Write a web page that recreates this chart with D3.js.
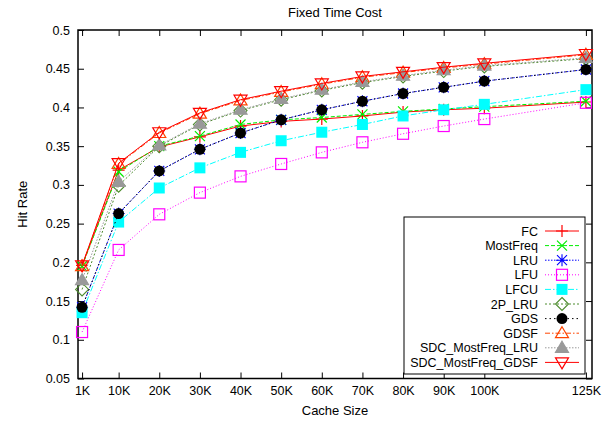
<!DOCTYPE html>
<html>
<head>
<meta charset="utf-8">
<script src="https://cdn.jsdelivr.net/npm/d3@7"></script>
<style>
  body { margin: 0; background: #fff; }
  text { font-family: "Liberation Sans", Arial, sans-serif; font-size: 12.5px; fill: #000; }
</style>
</head>
<body>
<div id="chart"></div>
<script>
// cache sizes (in K) and their tick labels
var sizes = [1, 10, 20, 30, 40, 50, 60, 70, 80, 90, 100, 125];
var sizeLabels = ["1K", "10K", "20K", "30K", "40K", "50K", "60K", "70K", "80K", "90K", "100K", "125K"];
var yTicks = [0.05, 0.1, 0.15, 0.2, 0.25, 0.3, 0.35, 0.4, 0.45, 0.5];

// hit rates
var fc        = [0.196, 0.319, 0.349, 0.362, 0.376, 0.382, 0.385, 0.389, 0.394, 0.397, 0.399, 0.407];
var mostFreq  = [0.195, 0.317, 0.350, 0.363, 0.378, 0.384, 0.387, 0.391, 0.395, 0.398, 0.401, 0.408];
var lru       = [0.142, 0.263, 0.318, 0.346, 0.367, 0.384, 0.397, 0.408, 0.418, 0.426, 0.434, 0.449];
var lfu       = [0.110, 0.216, 0.262, 0.290, 0.311, 0.327, 0.342, 0.355, 0.366, 0.376, 0.385, 0.406];
var lfcu      = [0.135, 0.252, 0.296, 0.322, 0.342, 0.357, 0.368, 0.378, 0.389, 0.397, 0.404, 0.423];
var p2Lru     = [0.165, 0.299, 0.350, 0.378, 0.396, 0.410, 0.422, 0.432, 0.440, 0.447, 0.453, 0.463];
var gds       = [0.142, 0.263, 0.318, 0.346, 0.367, 0.384, 0.397, 0.408, 0.418, 0.426, 0.434, 0.449];
var gdsf      = [0.195, 0.327, 0.367, 0.392, 0.409, 0.420, 0.430, 0.439, 0.445, 0.451, 0.456, 0.468];
var sdcLru    = [0.177, 0.304, 0.351, 0.379, 0.397, 0.411, 0.423, 0.433, 0.441, 0.448, 0.454, 0.464];
var sdcGdsf   = [0.196, 0.328, 0.368, 0.393, 0.410, 0.421, 0.431, 0.440, 0.446, 0.452, 0.457, 0.469];

var series = [
  {name: "FC", values: fc, color: "#ff0000", dash: null, mark: "plus"},
  {name: "MostFreq", values: mostFreq, color: "#00ee00", dash: "4,2", mark: "cross"},
  {name: "LRU", values: lru, color: "#0000ff", dash: "1.5,1.5", mark: "star"},
  {name: "LFU", values: lfu, color: "#ff00ff", dash: "1,2", mark: "square"},
  {name: "LFCU", values: lfcu, color: "#00ffff", dash: "6,2,1.5,2", mark: "fsquare"},
  {name: "2P_LRU", values: p2Lru, color: "#4d8c2e", dash: "2,2", mark: "diamond"},
  {name: "GDS", values: gds, color: "#000000", dash: "1.5,3", mark: "circle"},
  {name: "GDSF", values: gdsf, color: "#ff4500", dash: "5,2,1.5,2", mark: "triangle"},
  {name: "SDC_MostFreq_LRU", values: sdcLru, color: "#999999", dash: "1.5,1.5", mark: "ftriangle"},
  {name: "SDC_MostFreq_GDSF", values: sdcGdsf, color: "#ff0000", dash: null, mark: "itriangle"}
];

var W = 610, H = 422;
var mLeft = 78, mRight = 592, mTop = 30, mBottom = 378.5;

var svg = d3.select("#chart").append("svg")
  .attr("width", W).attr("height", H);

var x = d3.scaleLinear().domain([0, 126.5]).range([mLeft, mRight]);
var y = d3.scaleLinear().domain([0.05, 0.5]).range([mBottom, mTop]);

// axes with inward ticks, mirrored on top/right
svg.append("g")
  .attr("transform", "translate(0," + mBottom + ")")
  .call(d3.axisBottom(x).tickValues(sizes).tickFormat(function(d, i) { return sizeLabels[i]; })
    .tickSizeInner(-6).tickSizeOuter(0).tickPadding(8));
svg.append("g")
  .attr("transform", "translate(0," + mTop + ")")
  .call(d3.axisTop(x).tickValues(sizes).tickFormat("").tickSizeInner(-6).tickSizeOuter(0));
svg.append("g")
  .attr("transform", "translate(" + mLeft + ",0)")
  .call(d3.axisLeft(y).tickValues(yTicks).tickFormat(d3.format("")).tickSizeInner(-6).tickSizeOuter(0).tickPadding(8));
svg.append("g")
  .attr("transform", "translate(" + mRight + ",0)")
  .call(d3.axisRight(y).tickValues(yTicks).tickFormat("").tickSizeInner(-6).tickSizeOuter(0));

svg.selectAll(".domain").remove();
svg.selectAll(".tick line").attr("stroke", "#000").attr("stroke-width", 1);
svg.selectAll(".tick text").style("font-size", "12.5px").attr("fill", "#000");

svg.append("rect")
  .attr("x", mLeft).attr("y", mTop)
  .attr("width", mRight - mLeft).attr("height", mBottom - mTop)
  .attr("fill", "none").attr("stroke", "#000").attr("stroke-width", 1.5);

// titles
svg.append("text").attr("x", (mLeft + mRight) / 2).attr("y", 17)
  .attr("text-anchor", "middle").style("font-size", "13px").text("Fixed Time Cost");
svg.append("text").attr("x", (mLeft + mRight) / 2).attr("y", 415)
  .attr("text-anchor", "middle").style("font-size", "13px").text("Cache Size");
svg.append("text").attr("transform", "translate(27," + ((mTop + mBottom) / 2) + ") rotate(-90)")
  .attr("text-anchor", "middle").style("font-size", "13px").text("Hit Rate");

function drawMark(g, type, cx, cy, color) {
  var s = 5.5;
  if (type == "plus") {
    g.append("path").attr("d", "M" + (cx - 6) + "," + cy + "H" + (cx + 6) + "M" + cx + "," + (cy - 6) + "V" + (cy + 6))
      .attr("stroke", color).attr("stroke-width", 1.2).attr("fill", "none");
  } else if (type == "cross") {
    g.append("path").attr("d", "M" + (cx - 5) + "," + (cy - 5) + "L" + (cx + 5) + "," + (cy + 5) + "M" + (cx - 5) + "," + (cy + 5) + "L" + (cx + 5) + "," + (cy - 5))
      .attr("stroke", color).attr("stroke-width", 1.2).attr("fill", "none");
  } else if (type == "star") {
    g.append("path").attr("d", "M" + (cx - 6) + "," + cy + "H" + (cx + 6) + "M" + cx + "," + (cy - 6) + "V" + (cy + 6) +
        "M" + (cx - 5) + "," + (cy - 5) + "L" + (cx + 5) + "," + (cy + 5) + "M" + (cx - 5) + "," + (cy + 5) + "L" + (cx + 5) + "," + (cy - 5))
      .attr("stroke", color).attr("stroke-width", 1.1).attr("fill", "none");
  } else if (type == "square") {
    g.append("rect").attr("x", cx - s).attr("y", cy - s).attr("width", 2 * s).attr("height", 2 * s)
      .attr("stroke", color).attr("stroke-width", 1.2).attr("fill", "none");
  } else if (type == "fsquare") {
    g.append("rect").attr("x", cx - 5.5).attr("y", cy - 5.5).attr("width", 11).attr("height", 11)
      .attr("fill", color);
  } else if (type == "circle") {
    g.append("circle").attr("cx", cx).attr("cy", cy).attr("r", 5.5).attr("fill", color);
  } else if (type == "diamond") {
    g.append("path").attr("d", "M" + cx + "," + (cy - 6.5) + "L" + (cx + 6.5) + "," + cy + "L" + cx + "," + (cy + 6.5) + "L" + (cx - 6.5) + "," + cy + "Z")
      .attr("stroke", color).attr("stroke-width", 1.1).attr("fill", "none");
  } else if (type == "triangle" || type == "ftriangle") {
    g.append("path").attr("d", "M" + cx + "," + (cy - 6.5) + "L" + (cx + 6.5) + "," + (cy + 4.5) + "L" + (cx - 6.5) + "," + (cy + 4.5) + "Z")
      .attr("stroke", color).attr("stroke-width", 1.2)
      .attr("fill", type == "ftriangle" ? color : "none");
  } else if (type == "itriangle") {
    g.append("path").attr("d", "M" + cx + "," + (cy + 6.5) + "L" + (cx + 6.5) + "," + (cy - 4.5) + "L" + (cx - 6.5) + "," + (cy - 4.5) + "Z")
      .attr("stroke", color).attr("stroke-width", 1.2).attr("fill", "none");
  }
}

var line = d3.line()
  .x(function(d, i) { return x(sizes[i]); })
  .y(function(d) { return y(d); });

series.forEach(function(s) {
  var g = svg.append("g");
  g.append("path").datum(s.values)
    .attr("d", line)
    .attr("fill", "none")
    .attr("stroke", s.color)
    .attr("stroke-width", 1)
    .attr("stroke-dasharray", s.dash);
  s.values.forEach(function(v, i) {
    drawMark(g, s.mark, x(sizes[i]), y(v), s.color);
  });
});

// legend
var lg = svg.append("g");
lg.append("rect").attr("x", 404).attr("y", 217).attr("width", 181).attr("height", 157)
  .attr("fill", "#fff").attr("stroke", "#000").attr("stroke-width", 1);
series.forEach(function(s, i) {
  var ly = 231 + i * 14.6;
  lg.append("text").attr("x", 538).attr("y", ly + 4.5).attr("text-anchor", "end").text(s.name);
  lg.append("line").attr("x1", 545).attr("x2", 579).attr("y1", ly).attr("y2", ly)
    .attr("stroke", s.color).attr("stroke-width", 1).attr("stroke-dasharray", s.dash);
  drawMark(lg, s.mark, 562, ly, s.color);
});
</script>
</body>
</html>
